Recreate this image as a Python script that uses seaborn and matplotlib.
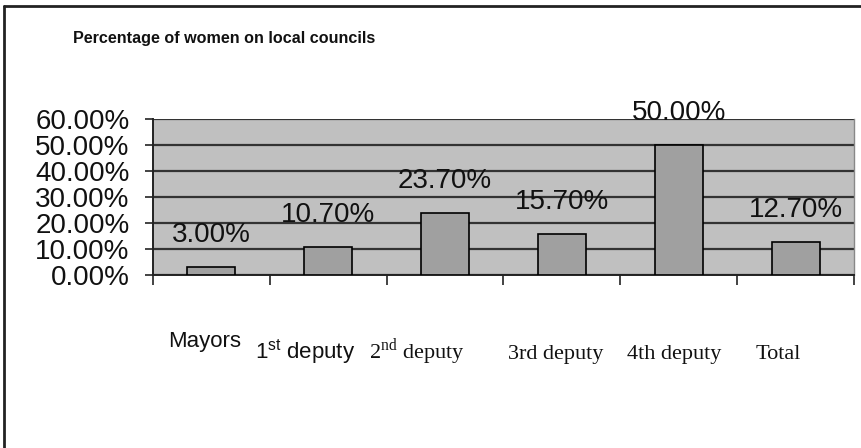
import matplotlib
matplotlib.use("Agg")
import matplotlib.pyplot as plt
from matplotlib.lines import Line2D
from matplotlib import font_manager
import seaborn as sns
import pandas as pd

# ---- data ----
categories = ["Mayors", "1st deputy", "2nd deputy", "3rd deputy", "4th deputy", "Total"]
values = [3.00, 10.70, 23.70, 15.70, 50.00, 12.70]
display_labels = ["Mayors",
                  "1$^{\\mathregular{st}}$ deputy",
                  "2$^{\\mathregular{nd}}$ deputy",
                  "3rd deputy", "4th deputy", "Total"]
yticks = [0, 10, 20, 30, 40, 50, 60]
title = "Percentage of women on local councils"

# ---- layout / style (not data) ----
label_families = ["Liberation Sans", "Liberation Sans", "Liberation Serif",
                  "Liberation Serif", "Liberation Serif", "Liberation Serif"]
label_dx_px = [-7, -23, -28, -6, -5, -17]
label_base_px = [72, 84, 84, 84, 84, 84]

sns.set_style("white")
plt.rcParams["font.family"] = ["Liberation Sans", "DejaVu Sans"]
plt.rcParams["text.color"] = "#111111"

available = {f.name for f in font_manager.fontManager.ttflist}
if "Liberation Sans Narrow" in available:
    title_family, title_size = ["Liberation Sans Narrow", "Liberation Sans"], 14
else:
    title_family, title_size = ["Liberation Sans"], 11.6

W, H, DPI = 862, 448, 100
fig = plt.figure(figsize=(W / DPI, H / DPI), dpi=DPI)
fig.patch.set_facecolor("white")
ax = fig.add_axes([153 / W, 1 - 275 / H, (854 - 153) / W, (275 - 119) / H])

df = pd.DataFrame({"cat": categories, "val": values})
sns.barplot(data=df, x="cat", y="val", ax=ax, color="#A0A0A0", saturation=1,
            edgecolor="black", linewidth=1.2, width=0.41, zorder=3)

ax.set_facecolor("#C0C0C0")
ax.set_xlim(-0.5, len(categories) - 0.5)
ax.set_ylim(0, 60)
ax.set_yticks(yticks)
ax.set_yticklabels([f"{v:.2f}%" for v in yticks], fontsize=20, color="#111111")
ax.yaxis.grid(True, color="#333333", linewidth=1.6, zorder=1)
ax.set_axisbelow(True)
ax.set_xlabel("")
ax.set_ylabel("")

# x ticks at category boundaries, no labels
ax.set_xticks([i - 0.5 for i in range(len(categories) + 1)])
ax.set_xticklabels([])
ax.tick_params(axis="x", which="major", bottom=True, length=7, width=1.2,
               color="#222222", direction="out")
ax.tick_params(axis="y", which="major", left=True, length=6, width=1.2,
               color="#222222", direction="out", pad=11)

for side in ["left", "bottom"]:
    ax.spines[side].set_color("#222222")
    ax.spines[side].set_linewidth(1.4)
ax.spines["top"].set_visible(False)
ax.spines["right"].set_color("#888888")
ax.spines["right"].set_linewidth(1.0)

# value labels
for i, v in enumerate(values):
    ax.annotate(f"{v:.2f}%", xy=(i, v), xytext=(0, 23), textcoords="offset points",
                ha="center", va="center", fontsize=20, color="#111111")

# category labels
for i, lab in enumerate(display_labels):
    ax.annotate(lab, xy=(i, 0), xycoords=("data", "axes fraction"),
                xytext=(label_dx_px[i] * 0.72, -label_base_px[i] * 0.72),
                textcoords="offset points", ha="center", va="baseline",
                fontsize=16, family=label_families[i], color="#111111",
                annotation_clip=False)

fig.text(73 / W, 1 - 38 / H, title, fontsize=title_size, fontweight="bold",
         family=title_family, ha="left", va="center", color="#111111")

# outer border (left and top visible)
fig.add_artist(Line2D([4.5 / W, 4.5 / W], [0, 1 - 6 / H], transform=fig.transFigure,
                      color="#222222", linewidth=2))
fig.add_artist(Line2D([4.5 / W, 1], [1 - 6 / H, 1 - 6 / H], transform=fig.transFigure,
                      color="#222222", linewidth=2))

fig.savefig("out.png", dpi=DPI)
